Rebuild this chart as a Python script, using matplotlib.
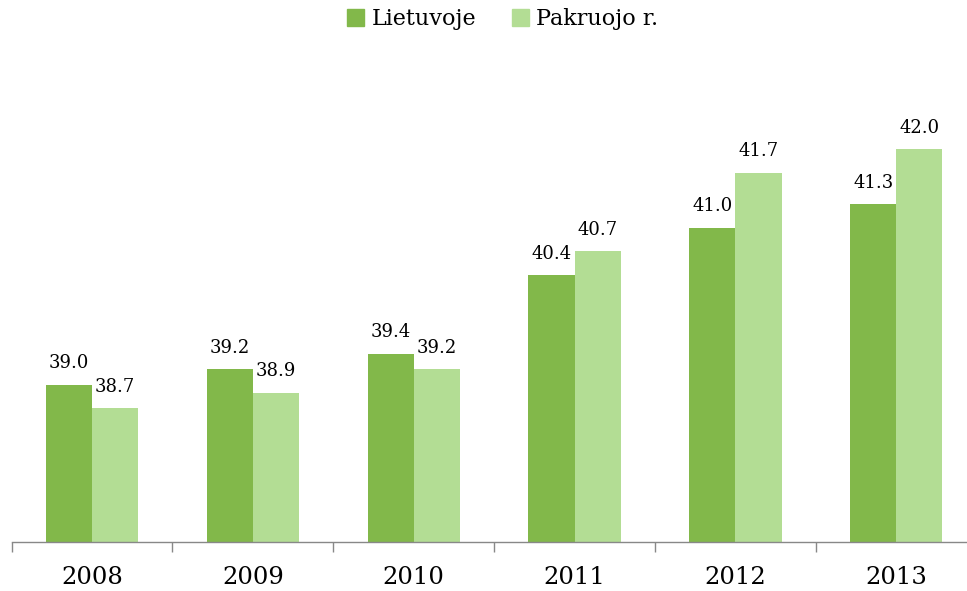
import numpy as np
import matplotlib.pyplot as plt
from matplotlib.patches import Patch

years = ['2008', '2009', '2010', '2011', '2012', '2013']
lietuvoje = [39.0, 39.2, 39.4, 40.4, 41.0, 41.3]
pakruojo = [38.7, 38.9, 39.2, 40.7, 41.7, 42.0]
series_names = ['Lietuvoje', 'Pakruojo r.']

dark = '#82b84a'
light = '#b3dd94'

plt.rcParams['font.family'] = ['DejaVu Serif']

fig = plt.figure(figsize=(9.67, 5.91), dpi=100)
ax = fig.add_axes([0.012, 0.083, 0.998, 0.797])

x = np.arange(len(years))
w = 0.287
b1 = ax.bar(x - w/2, lietuvoje, w, color=dark)
b2 = ax.bar(x + w/2, pakruojo, w, color=light)

# value labels above each bar
for bars, vals in [(b1, lietuvoje), (b2, pakruojo)]:
    for r, v in zip(bars, vals):
        ax.annotate(f'{v:.1f}', (r.get_x() + r.get_width()/2, v),
                    xytext=(0, 9), textcoords='offset points',
                    ha='center', va='bottom', fontsize=13)

ax.set_ylim(37, 43)
ax.set_xlim(-0.5, len(years) - 0.5)
ax.set_yticks([])
for s in ['top', 'right', 'left']:
    ax.spines[s].set_visible(False)
ax.spines['bottom'].set_color('#888888')
ax.spines['bottom'].set_linewidth(1)

ax.set_xticks(x)
ax.set_xticklabels(years, fontsize=17.5)
ax.tick_params(axis='x', which='major', length=0, pad=17)
ax.set_xticks(np.arange(len(years) + 1) - 0.5, minor=True)
ax.tick_params(axis='x', which='minor', length=7, color='#888888', width=1)

handles = [Patch(color=dark), Patch(color=light)]
fig.legend(handles, series_names, loc='upper center', bbox_to_anchor=(0.52, 1.02),
           ncol=2, frameon=False, fontsize=16, handlelength=0.75, handleheight=0.75,
           handletextpad=0.35, columnspacing=1.6)

fig.savefig('out.png', dpi=100)
